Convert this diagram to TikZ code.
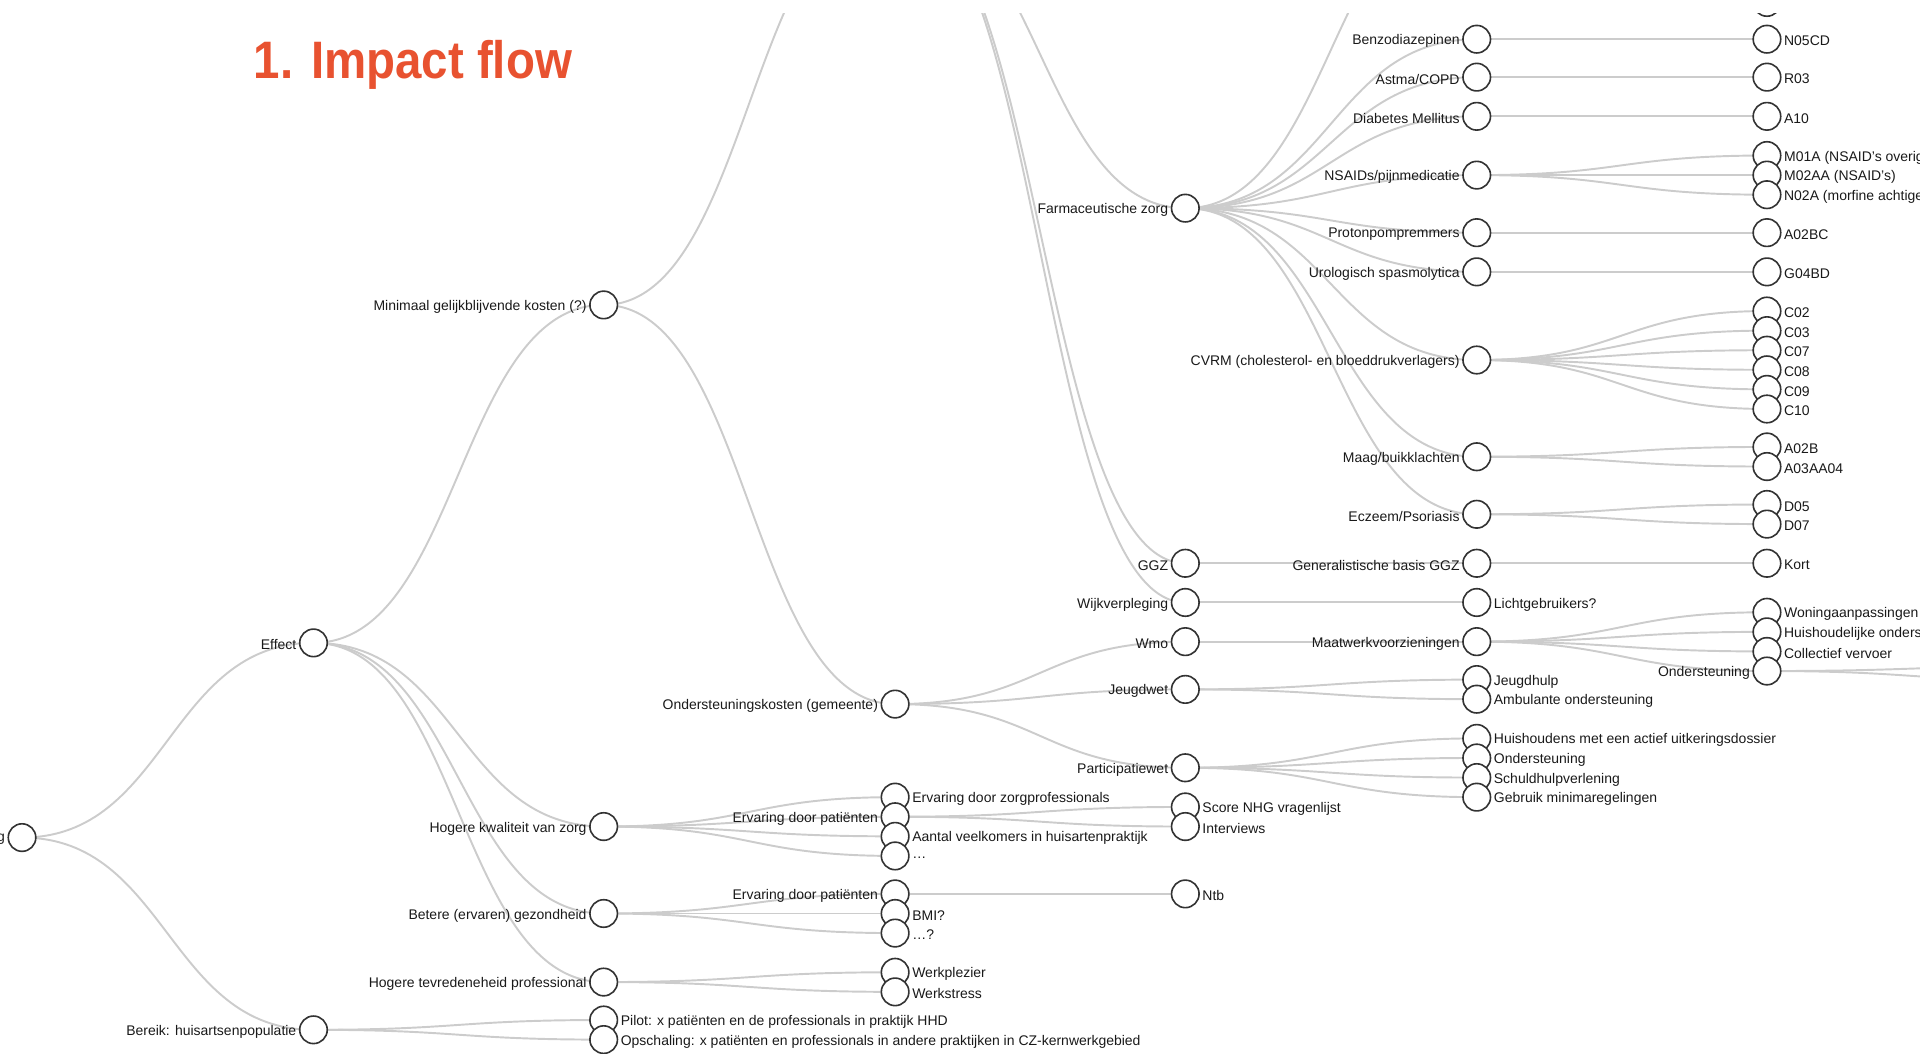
\documentclass[tikz,border=0pt]{standalone}
\usepackage{fontspec}
\setmainfont{Liberation Sans}
\usetikzlibrary{backgrounds}

\definecolor{titlered}{RGB}{232,82,48}
\newcommand\lblsize{\fontsize{6.5}{7.7}\selectfont}
\newcommand\titlesize{\fontsize{24.5}{28}\selectfont\bfseries}

\tikzset{
  dot/.style={circle, draw=black!80, line width=0.75pt, fill=white, minimum size=0.45cm, inner sep=0pt},
  txt/.style={font=\lblsize, text=black!90, inner sep=1pt, yshift=-0.9pt},
  parentnode/.style={dot, label={[txt]left:{#1}}},
  leafnode/.style={dot, label={[txt]right:{#1}}},
  link/.style={draw=black!20, line width=0.9pt,
    to path={.. controls +(118.75,0) and +(-118.75,0) .. (\tikztotarget)}},
}

\begin{document}
\begin{tikzpicture}[x=0.02cm, y=-0.02cm]
    \useasboundingbox (0,0) rectangle (1568,860);

    \node[anchor=base west, inner sep=0pt, text=titlered, font=\titlesize] (title) at (207,64) {\scalebox{0.9}[1]{1. Impact flow}};

    \clip (0,11) rectangle (1568,860);

    % level 0 and 1
    \node[parentnode={g}] (root) at (18,684) {};
    \node[parentnode={Effect}] (effect) at (256,525) {};
    \node[parentnode={Bereik: huisartsenpopulatie}] (bereik) at (256,841) {};

    % level 2
    \node[parentnode={Minimaal gelijkblijvende kosten (?)}] (minimaal) at (493,249) {};
    \node[parentnode={Hogere kwaliteit van zorg}] (kwaliteit) at (493,675) {};
    \node[parentnode={Betere (ervaren) gezondheid}] (gezondheid) at (493,746) {};
    \node[parentnode={Hogere tevredeneheid professional}] (tevreden) at (493,802) {};
    \node[leafnode={Pilot: x patiënten en de professionals in praktijk HHD}] (pilot) at (493,833) {};
    \node[leafnode={Opschaling: x patiënten en professionals in andere praktijken in CZ-kernwerkgebied}] (opschaling) at (493,849) {};

    % level 3
    \coordinate (zorgkosten) at (731,-81);
    \node[parentnode={Ondersteuningskosten (gemeente)}] (ondkosten) at (731,575) {};
    \node[leafnode={Ervaring door zorgprofessionals}] (zorgprof) at (731,651) {};
    \node[parentnode={Ervaring door patiënten}] (ervpat) at (731,667) {};
    \node[leafnode={Aantal veelkomers in huisartenpraktijk}] (veelkomers) at (731,683) {};
    \node[leafnode={…}] (puntjes) at (731,699) {};
    \node[parentnode={Ervaring door patiënten}] (ervpatb) at (731,730) {};
    \node[leafnode={BMI?}] (bmi) at (731,746) {};
    \node[leafnode={…?}] (vraag) at (731,762) {};
    \node[leafnode={Werkplezier}] (werkplezier) at (731,794) {};
    \node[leafnode={Werkstress}] (werkstress) at (731,810) {};

    % level 4
    \node[parentnode={Farmaceutische zorg}] (farma) at (968,170) {};
    \node[parentnode={GGZ}] (ggz) at (968,460) {};
    \node[parentnode={Wijkverpleging}] (wijk) at (968,492) {};
    \node[parentnode={Wmo}] (wmo) at (968,524) {};
    \node[parentnode={Jeugdwet}] (jeugdwet) at (968,563) {};
    \node[parentnode={Participatiewet}] (participatie) at (968,627) {};
    \node[leafnode={Score NHG vragenlijst}] (nhg) at (968,659) {};
    \node[leafnode={Interviews}] (interviews) at (968,675) {};
    \node[leafnode={Ntb}] (ntb) at (968,730) {};

    % level 5
    \coordinate (farmatop) at (1206,-89);
    \node[parentnode={Benzodiazepinen}] (benzo) at (1206,32) {};
    \node[parentnode={Astma/COPD}] (astma) at (1206,63) {};
    \node[parentnode={Diabetes Mellitus}] (diabetes) at (1206,95) {};
    \node[parentnode={NSAIDs/pijnmedicatie}] (nsaids) at (1206,143) {};
    \node[parentnode={Protonpompremmers}] (ppi) at (1206,190) {};
    \node[parentnode={Urologisch spasmolytica}] (uro) at (1206,222) {};
    \node[parentnode={CVRM (cholesterol- en bloeddrukverlagers)}] (cvrm) at (1206,294) {};
    \node[parentnode={Maag/buikklachten}] (maag) at (1206,373) {};
    \node[parentnode={Eczeem/Psoriasis}] (eczeem) at (1206,420) {};
    \node[parentnode={Generalistische basis GGZ}] (gbggz) at (1206,460) {};
    \node[leafnode={Lichtgebruikers?}] (licht) at (1206,492) {};
    \node[parentnode={Maatwerkvoorzieningen}] (maatwerk) at (1206,524) {};
    \node[leafnode={Jeugdhulp}] (jeugdhulp) at (1206,555) {};
    \node[leafnode={Ambulante ondersteuning}] (ambulant) at (1206,571) {};
    \node[leafnode={Huishoudens met een actief uitkeringsdossier}] (uitkering) at (1206,603) {};
    \node[leafnode={Ondersteuning}] (onderst) at (1206,619) {};
    \node[leafnode={Schuldhulpverlening}] (schuld) at (1206,635) {};
    \node[leafnode={Gebruik minimaregelingen}] (minima) at (1206,651) {};

    % level 6
    \node[dot] (bovenste) at (1443,2) {};
    \node[leafnode={N05CD}] (n05cd) at (1443,32) {};
    \node[leafnode={R03}] (r03) at (1443,63) {};
    \node[leafnode={A10}] (a10) at (1443,95) {};
    \node[leafnode={M01A (NSAID’s overig}] (m01a) at (1443,127) {};
    \node[leafnode={M02AA (NSAID’s)}] (m02aa) at (1443,143) {};
    \node[leafnode={N02A (morfine achtige}] (n02a) at (1443,159) {};
    \node[leafnode={A02BC}] (a02bc) at (1443,190) {};
    \node[leafnode={G04BD}] (g04bd) at (1443,222) {};
    \node[leafnode={C02}] (c02) at (1443,254) {};
    \node[leafnode={C03}] (c03) at (1443,270) {};
    \node[leafnode={C07}] (c07) at (1443,286) {};
    \node[leafnode={C08}] (c08) at (1443,302) {};
    \node[leafnode={C09}] (c09) at (1443,318) {};
    \node[leafnode={C10}] (c10) at (1443,334) {};
    \node[leafnode={A02B}] (a02b) at (1443,365) {};
    \node[leafnode={A03AA04}] (a03aa04) at (1443,381) {};
    \node[leafnode={D05}] (d05) at (1443,412) {};
    \node[leafnode={D07}] (d07) at (1443,428) {};
    \node[leafnode={Kort}] (kort) at (1443,460) {};
    \node[leafnode={Woningaanpassingen}] (woning) at (1443,500) {};
    \node[leafnode={Huishoudelijke onderst}] (huishoud) at (1443,516) {};
    \node[leafnode={Collectief vervoer}] (vervoer) at (1443,532) {};
    \node[parentnode={Ondersteuning}] (ondsteun) at (1443,548) {};

    % level 7 (outside the picture)
    \coordinate (rechtsa) at (1681,544);
    \coordinate (rechtsb) at (1681,556);

    \begin{scope}[on background layer]
    \clip (0,11) rectangle (1568,860);
    \path (root.center) edge[link] (effect.center) edge[link] (bereik.center);
    \path (effect.center) edge[link] (minimaal.center) edge[link] (kwaliteit.center)
        edge[link] (gezondheid.center) edge[link] (tevreden.center);
    \path (bereik.center) edge[link] (pilot.center) edge[link] (opschaling.center);
    \path (minimaal.center) edge[link] (zorgkosten) edge[link] (ondkosten.center);
    \path (kwaliteit.center) edge[link] (zorgprof.center) edge[link] (ervpat.center)
        edge[link] (veelkomers.center) edge[link] (puntjes.center);
    \path (gezondheid.center) edge[link] (ervpatb.center) edge[link] (bmi.center) edge[link] (vraag.center);
    \path (tevreden.center) edge[link] (werkplezier.center) edge[link] (werkstress.center);
    \path (zorgkosten) edge[link] (farma.center) edge[link] (ggz.center) edge[link] (wijk.center);
    \path (ondkosten.center) edge[link] (wmo.center) edge[link] (jeugdwet.center) edge[link] (participatie.center);
    \path (ervpat.center) edge[link] (nhg.center) edge[link] (interviews.center);
    \path (ervpatb.center) edge[link] (ntb.center);
    \path (farma.center) edge[link] (farmatop) edge[link] (benzo.center) edge[link] (astma.center)
        edge[link] (diabetes.center) edge[link] (nsaids.center) edge[link] (ppi.center)
        edge[link] (uro.center) edge[link] (cvrm.center) edge[link] (maag.center) edge[link] (eczeem.center);
    \path (ggz.center) edge[link] (gbggz.center);
    \path (wijk.center) edge[link] (licht.center);
    \path (wmo.center) edge[link] (maatwerk.center);
    \path (jeugdwet.center) edge[link] (jeugdhulp.center) edge[link] (ambulant.center);
    \path (participatie.center) edge[link] (uitkering.center) edge[link] (onderst.center)
        edge[link] (schuld.center) edge[link] (minima.center);
    \path (farmatop) edge[link] (bovenste.center);
    \path (benzo.center) edge[link] (n05cd.center);
    \path (astma.center) edge[link] (r03.center);
    \path (diabetes.center) edge[link] (a10.center);
    \path (nsaids.center) edge[link] (m01a.center) edge[link] (m02aa.center) edge[link] (n02a.center);
    \path (ppi.center) edge[link] (a02bc.center);
    \path (uro.center) edge[link] (g04bd.center);
    \path (cvrm.center) edge[link] (c02.center) edge[link] (c03.center) edge[link] (c07.center)
        edge[link] (c08.center) edge[link] (c09.center) edge[link] (c10.center);
    \path (maag.center) edge[link] (a02b.center) edge[link] (a03aa04.center);
    \path (eczeem.center) edge[link] (d05.center) edge[link] (d07.center);
    \path (gbggz.center) edge[link] (kort.center);
    \path (maatwerk.center) edge[link] (woning.center) edge[link] (huishoud.center)
        edge[link] (vervoer.center) edge[link] (ondsteun.center);
    \path (ondsteun.center) edge[link] (rechtsa) edge[link] (rechtsb);
    \end{scope}
\end{tikzpicture}
\end{document}
